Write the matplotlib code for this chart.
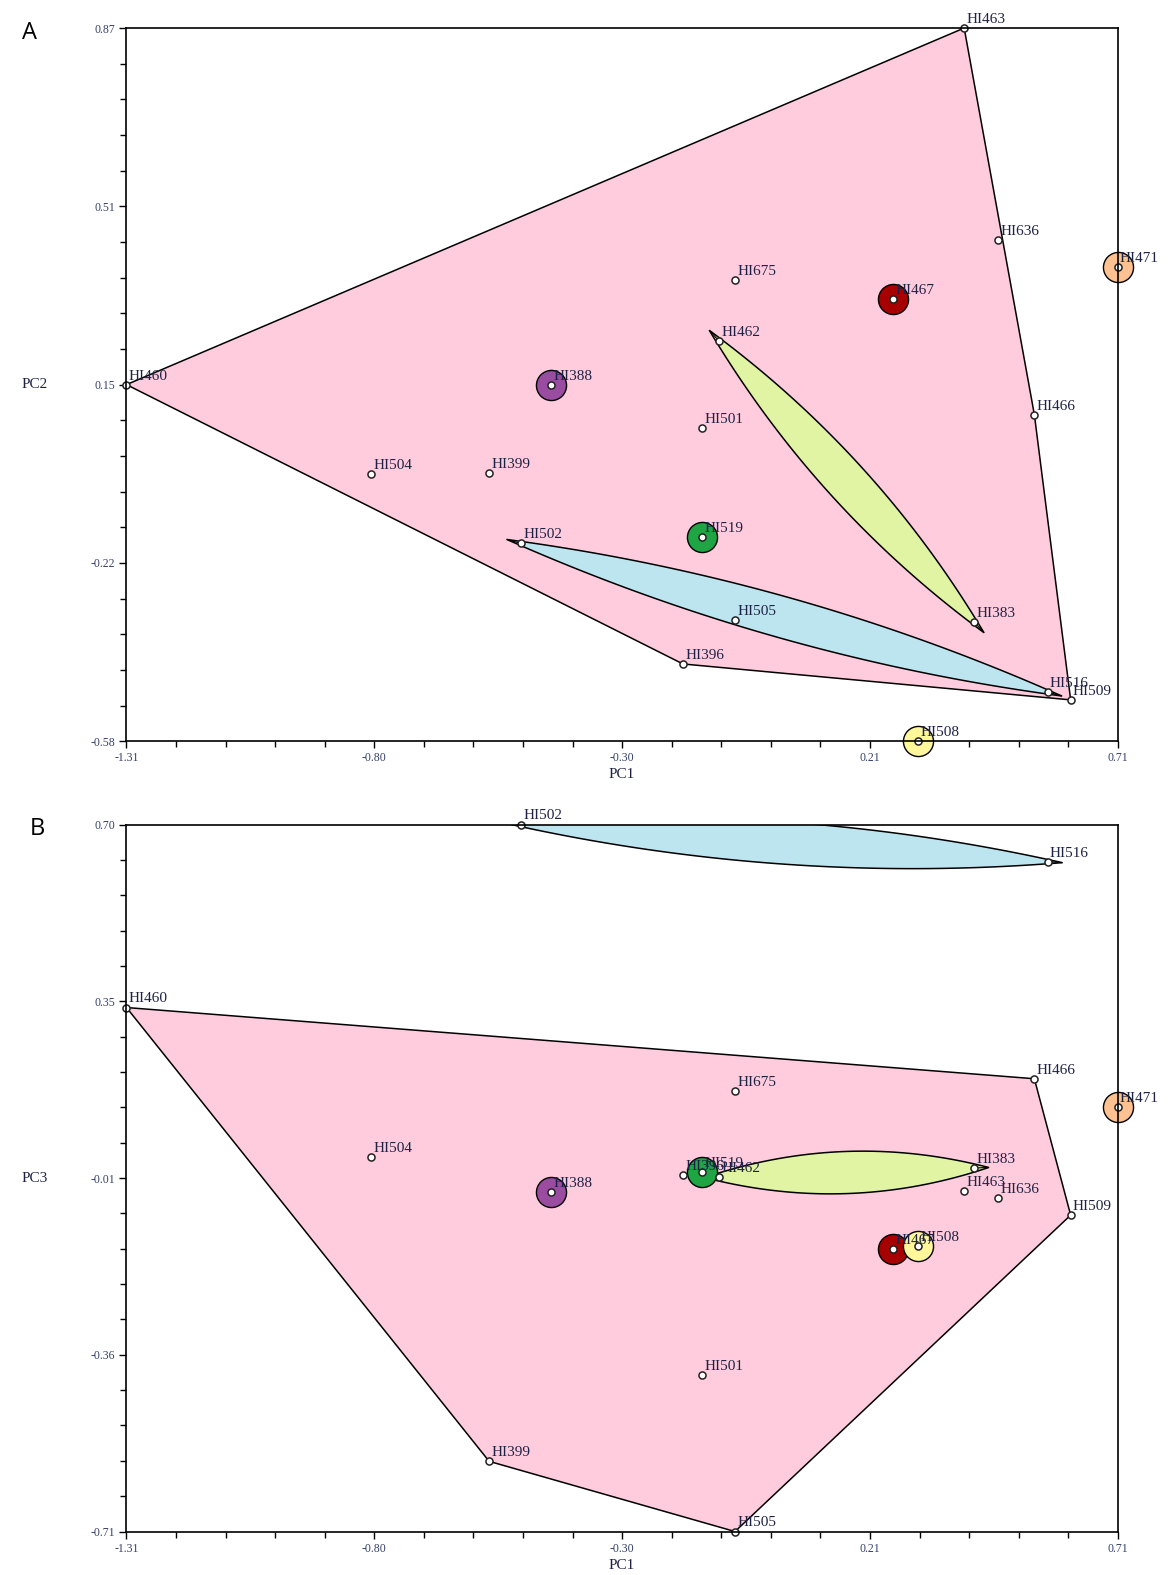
import numpy as np
import matplotlib
matplotlib.use('Agg')
import matplotlib.pyplot as plt
from matplotlib.patches import Polygon

# ── Data ───────────────────────────────────────────────────────────────────────
samples = ['HI460', 'HI463', 'HI636', 'HI471', 'HI675', 'HI467', 'HI462',
           'HI388', 'HI466', 'HI501', 'HI504', 'HI399', 'HI502', 'HI519',
           'HI505', 'HI383', 'HI396', 'HI516', 'HI509', 'HI508']
pc1 = [-1.310, 0.397, 0.466, 0.710, -0.070, 0.252, -0.102,
       -0.444, 0.540, -0.137, -0.811, -0.571, -0.506, -0.137,
       -0.070, 0.417, -0.176, 0.567, 0.614, 0.303]
pc2 = [0.145, 0.870, 0.439, 0.384, 0.357, 0.319, 0.233,
       0.145, 0.084, 0.057, -0.037, -0.035, -0.178, -0.165,
       -0.333, -0.337, -0.423, -0.480, -0.496, -0.580]
pc3 = [0.335, -0.031, -0.045, 0.137, 0.169, -0.147, -0.003,
       -0.033, 0.193, -0.398, 0.037, -0.570, 0.700, 0.007,
       -0.710, 0.015, 0.001, 0.626, -0.079, -0.141]
groups = ['pink', 'pink', 'pink', 'orange', 'pink', 'red', 'lime',
          'purple', 'pink', 'pink', 'pink', 'pink', 'blue', 'green',
          'pink', 'lime', 'pink', 'blue', 'pink', 'yellow']

x_ticklabels = ['-1.31', '-0.80', '-0.30', '0.21', '0.71']
y2_ticklabels = ['-0.58', '-0.22', '0.15', '0.51', '0.87']
y3_ticklabels = ['-0.71', '-0.36', '-0.01', '0.35', '0.70']

# ── Styles ─────────────────────────────────────────────────────────────────────
FILL = {
    'pink':   '#FFCCDD',
    'blue':   '#BDE5EF',
    'lime':   '#E1F4A3',
    'red':    '#A60000',
    'orange': '#FFC190',
    'purple': '#9A4CA0',
    'green':  '#20A545',
    'yellow': '#FFF79A',
}
TXT = '#1d2245'
SERIF = 'Liberation Serif'
LENS_HALF = 0.042
LENS_EXT = 0.03

pc1 = np.array(pc1)
groups = np.array(groups)


def convex_hull(pts):
    pts = sorted(map(tuple, pts))
    def cross(o, a, b):
        return (a[0] - o[0]) * (b[1] - o[1]) - (a[1] - o[1]) * (b[0] - o[0])
    lower, upper = [], []
    for p in pts:
        while len(lower) >= 2 and cross(lower[-2], lower[-1], p) <= 0:
            lower.pop()
        lower.append(p)
    for p in reversed(pts):
        while len(upper) >= 2 and cross(upper[-2], upper[-1], p) <= 0:
            upper.pop()
        upper.append(p)
    return np.array(lower[:-1] + upper[:-1])


def lens(p, q):
    p, q = np.asarray(p, float), np.asarray(q, float)
    u = (q - p) / np.linalg.norm(q - p)
    n = np.array([-u[1], u[0]])
    a, b = p - u * LENS_EXT, q + u * LENS_EXT
    t = np.linspace(0, 1, 80)
    c = a + np.outer(t, b - a)
    w = LENS_HALF * 4 * t * (1 - t)
    top = c + np.outer(w, n)
    bot = (c - np.outer(w, n))[::-1]
    return np.vstack([top, bot]), a, b


def draw_panel(ax, yvals, ylim, yticklabels, ylabel, letter):
    yvals = np.array(yvals)
    xy = np.column_stack([pc1, yvals])

    for g in ['pink', 'blue', 'lime']:
        m = groups == g
        if g == 'pink':
            poly = convex_hull(xy[m])
            z = 1
        else:
            pts = xy[m]
            poly, a, b = lens(pts[0], pts[1])
            z = 2
            # short lines from the pointed tips to the points
            for tip, pt in [(a, pts[0]), (b, pts[1])]:
                ax.plot([tip[0], pt[0]], [tip[1], pt[1]], color='black',
                        lw=0.8, zorder=2.5)
        ax.add_patch(Polygon(poly, closed=True, facecolor=FILL[g],
                             edgecolor='black', lw=1.1, zorder=z))

    for g in ['red', 'orange', 'purple', 'green', 'yellow']:
        m = groups == g
        ax.scatter(xy[m, 0], xy[m, 1], s=470, c=FILL[g], edgecolors='black',
                   linewidths=1.0, zorder=3, clip_on=False)

    ax.scatter(xy[:, 0], xy[:, 1], s=26, c='white', edgecolors='#222222',
               linewidths=1.1, zorder=4, clip_on=False)
    for name, x, y in zip(samples, xy[:, 0], xy[:, 1]):
        ax.annotate(name, (x, y), xytext=(1.5, 1.5), textcoords='offset points',
                    ha='left', va='bottom', fontsize=11, family=SERIF,
                    color=TXT, zorder=5, annotation_clip=False)

    xlim = (-1.31, 0.71)
    ax.set_xlim(*xlim)
    ax.set_ylim(*ylim)
    ax.set_xticks(np.linspace(*xlim, 5))
    ax.set_xticklabels(x_ticklabels)
    ax.set_xticks(np.linspace(*xlim, 21), minor=True)
    ax.set_yticks(np.linspace(*ylim, 5))
    ax.set_yticklabels(yticklabels)
    ax.set_yticks(np.linspace(*ylim, 21), minor=True)
    ax.tick_params(which='both', direction='out', top=False, right=False,
                   width=1.0, color='black')
    ax.tick_params(which='major', length=5, pad=3, labelsize=8.5,
                   labelcolor='#34406a')
    ax.tick_params(which='minor', length=4)
    for lab in ax.get_xticklabels() + ax.get_yticklabels():
        lab.set_family(SERIF)
    for sp in ax.spines.values():
        sp.set_linewidth(1.2)
        sp.set_zorder(6)

    ax.set_xlabel('PC1', fontsize=11, family=SERIF, color=TXT, labelpad=3)
    pos = ax.get_position()
    fig.text(0.030, pos.y0 + pos.height / 2, ylabel, fontsize=11, family=SERIF,
             color=TXT, ha='center', va='center')
    fig.text(pos.x0 - 0.083 + (0.0 if letter == 'A' else 0.007),
             pos.y1 - 0.003, letter, fontsize=17, family='Open Sans',
             ha='center', va='center')


fig = plt.figure(figsize=(11.68, 15.75), dpi=100)
axA = fig.add_axes([0.1083, 0.5294, 0.8487, 0.4528])
axB = fig.add_axes([0.1083, 0.0276, 0.8487, 0.4489])

draw_panel(axA, pc2, (-0.58, 0.87), y2_ticklabels, 'PC2', 'A')
draw_panel(axB, pc3, (-0.71, 0.70), y3_ticklabels, 'PC3', 'B')

fig.savefig('out.png', dpi=100)
